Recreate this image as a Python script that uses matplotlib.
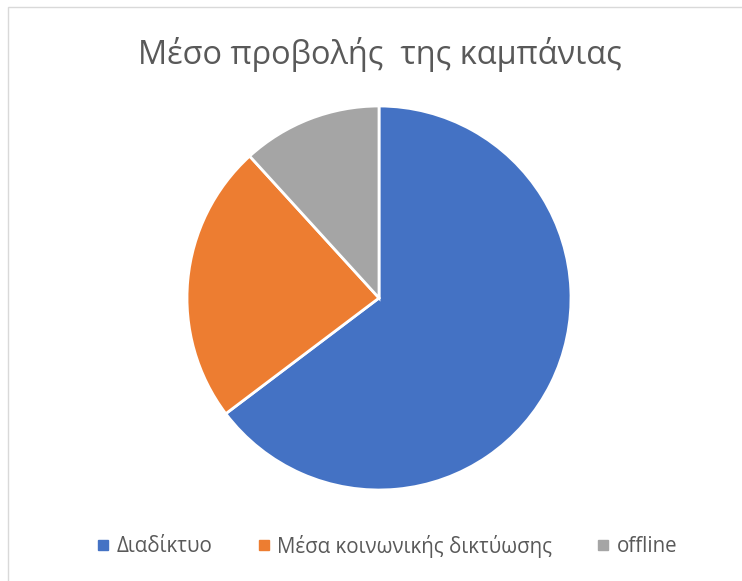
import matplotlib.pyplot as plt
from matplotlib.patches import Rectangle
from matplotlib.lines import Line2D

plt.rcParams['font.family'] = ['Open Sans', 'Noto Sans', 'DejaVu Sans']

title = "Μέσο προβολής  της καμπάνιας"
categories = ["Διαδίκτυο", "Μέσα κοινωνικής δικτύωσης", "offline"]
values = [11, 4, 2]
colors = ["#4472C4", "#ED7D31", "#A5A5A5"]

W, H = 742, 581
fig = plt.figure(figsize=(W / 100, H / 100), dpi=100)

# chart frame
fig.patches.append(Rectangle((8 / W, -0.05), 1.0, 1 - 7 / H + 0.05,
                             transform=fig.transFigure, fill=False,
                             edgecolor="#D9D9D9", linewidth=1.0))

cx, cy, r = 379, 298, 192
ax = fig.add_axes([(cx - r) / W, (H - cy - r) / H, 2 * r / W, 2 * r / H])
ax.pie(values, colors=colors, startangle=90, counterclock=False, radius=1,
       wedgeprops=dict(edgecolor="white", linewidth=2))
ax.set_xlim(-1.0, 1.0)
ax.set_ylim(-1.0, 1.0)
ax.set_aspect("equal")
ax.axis("off")

fig.text(380 / W, 1 - 55 / H, title, ha="center", va="center",
         fontsize=23.4, color="#595959")

handles = [Line2D([], [], marker="s", linestyle="none", markersize=6.5,
                  markerfacecolor=c, markeredgecolor=c) for c in colors]
fig.legend(handles, categories, loc="center", bbox_to_anchor=(387 / W, 1 - 546 / H),
           ncol=3, frameon=False, fontsize=14.8, labelcolor="#595959",
           handlelength=0.6, handletextpad=0.35, columnspacing=2.2)

fig.savefig("out.png", dpi=100)
